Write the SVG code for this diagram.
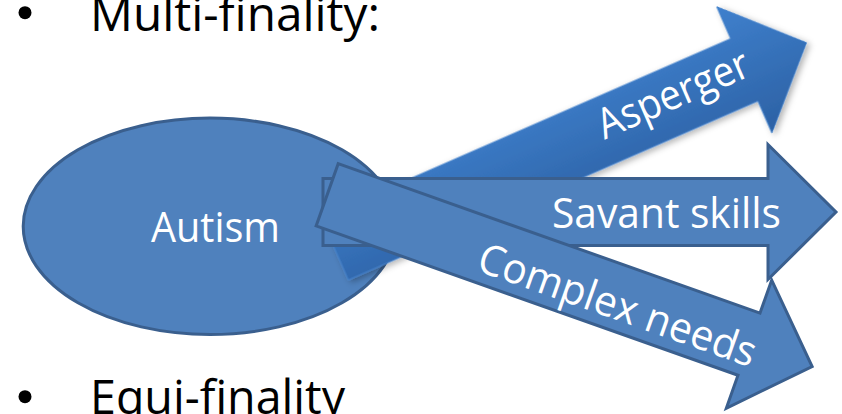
<svg xmlns="http://www.w3.org/2000/svg" width="842" height="414" viewBox="0 0 842 414">
  <defs>
    <style>
      .title { font-family: "Open Sans", "Liberation Sans", sans-serif; font-size: 48px; fill: #000000; }
      .label { font-family: "Open Sans", "Liberation Sans", sans-serif; font-size: 42px; fill: #ffffff; }
      .shape { fill: #4f81bd; stroke: #3a5f8e; stroke-width: 3; stroke-linejoin: miter; }
      .bullet { fill: #000000; }
    </style>
    <linearGradient id="aspergerFill" x1="0" y1="-69" x2="0" y2="69" gradientUnits="userSpaceOnUse">
      <stop offset="0" stop-color="#3f80cd"/>
      <stop offset="1" stop-color="#2c61a4"/>
    </linearGradient>
    <filter id="softShadow" x="-10%" y="-20%" width="120%" height="150%">
      <feDropShadow dx="2" dy="3" stdDeviation="3" flood-color="#000000" flood-opacity="0.3"/>
    </filter>
  </defs>

  <!-- heading bullets -->
  <g id="heading-multi">
    <circle class="bullet" cx="25" cy="12.7" r="6.5"/>
    <text class="title" x="90" y="31" textLength="290" lengthAdjust="spacingAndGlyphs">Multi-finality:</text>
  </g>
  <g id="heading-equi">
    <circle class="bullet" cx="25" cy="396.7" r="6.5"/>
    <text class="title" x="90" y="414" textLength="255" lengthAdjust="spacingAndGlyphs">Equi-finality</text>
  </g>

  <!-- source node -->
  <g id="node-autism">
    <ellipse class="shape" cx="210" cy="226.3" rx="186.8" ry="108.2"/>
    <text class="label" x="151" y="242" textLength="129" lengthAdjust="spacingAndGlyphs">Autism</text>
  </g>

  <!-- outcome arrows, drawn back to front -->
  <g id="connectors">
    <g id="arrow-asperger" transform="translate(334.7 248.8) rotate(-23.6)">
      <polygon points="0,-34 447,-34 447,-69 515,0 447,69 447,34 0,34" fill="url(#aspergerFill)" stroke="#4683cc" stroke-width="1" filter="url(#softShadow)"/>
      <text class="label" x="291" y="8" textLength="162" lengthAdjust="spacingAndGlyphs">Asperger</text>
    </g>
    <g id="arrow-savant">
      <polygon class="shape" points="323,178.5 768,178.5 768,144.5 836,212 768,279.5 768,245.5 323,245.5"/>
      <text class="label" x="552" y="228" textLength="229" lengthAdjust="spacingAndGlyphs">Savant skills</text>
    </g>
    <g id="arrow-complex" transform="translate(325.75 194.3) rotate(19.5)">
      <polygon class="shape" points="1.5,-33 449,-33 449,-68 516,0 449,68 449,33 1.5,33"/>
      <text class="label" x="166" y="21.5" textLength="292" lengthAdjust="spacingAndGlyphs">Complex needs</text>
    </g>
  </g>
</svg>
